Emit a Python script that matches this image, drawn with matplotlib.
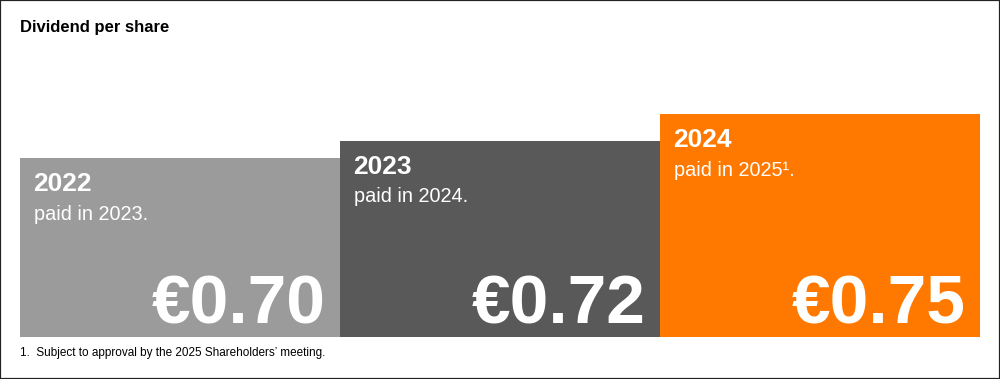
import matplotlib
matplotlib.use("Agg")
import matplotlib.pyplot as plt
from matplotlib.patches import Rectangle
from matplotlib.transforms import offset_copy

plt.rcParams['font.family'] = ['Liberation Sans', 'DejaVu Sans']

# ---- data ----
years = ['2022', '2023', '2024']
paid_labels = ['paid in 2023.', 'paid in 2024.', 'paid in 2025\u00b9.']
values = [0.70, 0.72, 0.75]
colors = ['#9B9B9B', '#595959', '#FF7900']
title = 'Dividend per share'
footnote = '1.  Subject to approval by the 2025 Shareholders\u2019 meeting.'

W, H = 1000, 379
fig = plt.figure(figsize=(W / 100, H / 100), dpi=100)
fig.patch.set_facecolor('white')

# axes placed in pixels: x 20..980, y bottom 336.7 .. top 100
ax_left, ax_right = 20, 980
ax_bottom_px, ax_top_px = 336.7, 100
ax = fig.add_axes([ax_left / W, (H - ax_bottom_px) / H,
                   (ax_right - ax_left) / W, (ax_bottom_px - ax_top_px) / H])
ax.set_axis_off()

px_per_unit = 876.9
base = 0.4966
ax.set_ylim(base, base + (ax_bottom_px - ax_top_px) / px_per_unit)
ax.set_xlim(-0.5, len(values) - 0.5)

xs = list(range(len(values)))
ax.bar(xs, values, width=1.0, color=colors, edgecolor='none', clip_on=True)

for i, (yr, pd_, v) in enumerate(zip(years, paid_labels, values)):
    left = i - 0.5
    right = i + 0.5
    t_year = offset_copy(ax.transData, fig=fig, x=13.5, y=-33, units='dots')
    ax.text(left, v, yr, transform=t_year, color='white', fontsize=19,
            fontweight='bold', ha='left', va='baseline')
    t_paid = offset_copy(ax.transData, fig=fig, x=13.5, y=-61.5, units='dots')
    ax.text(left, v, pd_, transform=t_paid, color='white', fontsize=14.3,
            ha='left', va='baseline')
    t_val = offset_copy(ax.get_xaxis_transform(), fig=fig, x=-14.5, y=12.7, units='dots')
    ax.text(right, 0, f'\u20ac{v:.2f}', transform=t_val, color='white',
            fontsize=50, fontweight='bold', ha='right', va='baseline')

fig.text(20 / W, (H - 32) / H, title, fontsize=12, fontweight='bold',
         color='black', ha='left', va='baseline')
fig.text(20 / W, (H - 356) / H, footnote, fontsize=8.5, color='black',
         ha='left', va='baseline')

fig.patches.append(Rectangle((0, 0), 1, 1, transform=fig.transFigure,
                             fill=False, edgecolor='#222222', linewidth=1.6))

fig.savefig('out.png', dpi=100, facecolor='white')
